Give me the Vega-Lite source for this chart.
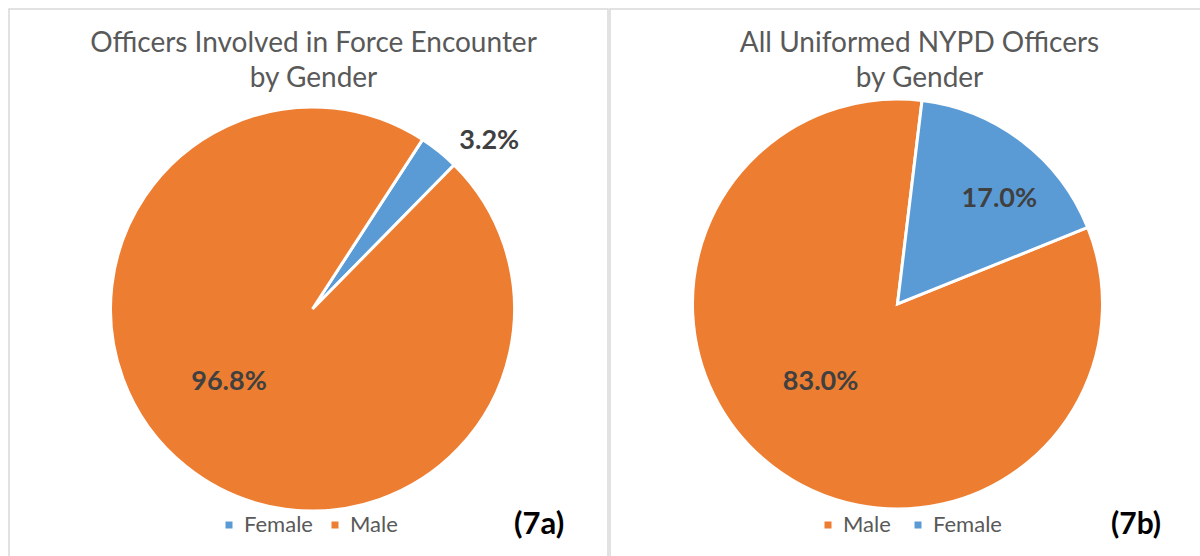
{
  "$schema": "https://vega.github.io/schema/vega-lite/v6.json",
  "padding": {"left": 8, "top": 8, "right": 0, "bottom": 0},
  "autosize": {"type": "pad"},
  "background": "white",
  "spacing": 0,
  "config": {
    "view": {"stroke": null},
    "font": "Lato",
    "title": {"font": "Lato", "fontSize": 28, "fontWeight": "normal", "color": "#595959", "lineHeight": 35, "anchor": "middle"}
  },
  "datasets": {
    "force": [
      {"gender": "Female", "share": 0.032},
      {"gender": "Male", "share": 0.968}
    ],
    "all": [
      {"gender": "Male", "share": 0.83},
      {"gender": "Female", "share": 0.17}
    ],
    "frame": [{"panel": "border"}]
  },
  "hconcat": [
    {
      "width": 599,
      "height": 548,
      "data": {"name": "force"},
      "title": {"text": ["Officers Involved in Force Encounter", "by Gender"], "offset": -85, "dx": 5},
      "layer": [
        {
          "data": {"name": "frame"},
          "mark": {"type": "rect", "fill": null, "stroke": "#D9D9D9", "strokeWidth": 1.5},
          "encoding": {}
        },
        {
          "mark": {"type": "arc", "radius": 202, "stroke": "white", "strokeWidth": 3, "xOffset": 4, "yOffset": 26},
          "encoding": {
            "theta": {"field": "share", "type": "quantitative", "stack": true, "scale": {"domain": [0, 1], "range": [0.576, 6.859]}},
            "order": {"field": "gender", "sort": "ascending"},
            "color": {
              "field": "gender", "type": "nominal",
              "scale": {"domain": ["Female", "Male"], "range": ["#5B9BD5", "#ED7D31"]},
              "legend": {
                "orient": "none", "legendX": 209, "legendY": 505, "direction": "horizontal",
                "title": "(7a)", "titleOrient": "right", "titlePadding": 116,
                "titleFont": "Lato", "titleFontSize": 31, "titleFontWeight": "bold", "titleColor": "black",
                "labelFont": "Lato", "labelFontSize": 22, "labelColor": "#595959",
                "symbolType": "square", "symbolSize": 49, "symbolStrokeWidth": 0, "symbolOpacity": 1,
                "columnPadding": 11, "labelOffset": 4
              }
            }
          }
        },
        {
          "mark": {"type": "text", "radius": 244, "xOffset": 28, "yOffset": 48, "font": "Lato", "fontWeight": "bold", "fontSize": 27, "color": "#404040"},
          "encoding": {
            "theta": {"field": "share", "type": "quantitative", "stack": true, "scale": {"domain": [0, 1], "range": [0.576, 6.859]}},
            "order": {"field": "gender", "sort": "ascending"},
            "text": {"field": "share", "type": "quantitative", "format": ".1%"},
            "opacity": {"condition": {"test": "datum.gender === 'Female'", "value": 1}, "value": 0}
          }
        },
        {
          "mark": {"type": "text", "radius": 111, "xOffset": -10, "yOffset": 12, "font": "Lato", "fontWeight": "bold", "fontSize": 27, "color": "#404040"},
          "encoding": {
            "theta": {"field": "share", "type": "quantitative", "stack": true, "scale": {"domain": [0, 1], "range": [0.576, 6.859]}},
            "order": {"field": "gender", "sort": "ascending"},
            "text": {"field": "share", "type": "quantitative", "format": ".1%"},
            "opacity": {"condition": {"test": "datum.gender === 'Male'", "value": 1}, "value": 0}
          }
        }
      ]
    },
    {
      "width": 593,
      "height": 548,
      "data": {"name": "all"},
      "title": {"text": ["All Uniformed NYPD Officers", "by Gender"], "offset": -85, "dx": 13},
      "layer": [
        {
          "data": {"name": "frame"},
          "mark": {"type": "rect", "fill": null, "stroke": "#D9D9D9", "strokeWidth": 1.5},
          "encoding": {}
        },
        {
          "mark": {"type": "arc", "radius": 205, "stroke": "white", "strokeWidth": 3, "xOffset": -9, "yOffset": 21},
          "encoding": {
            "theta": {"field": "share", "type": "quantitative", "stack": true, "scale": {"domain": [0, 1], "range": [0.12, 6.403]}},
            "order": {"field": "gender", "sort": "ascending"},
            "color": {
              "field": "gender", "type": "nominal",
              "scale": {"domain": ["Male", "Female"], "range": ["#ED7D31", "#5B9BD5"]},
              "legend": {
                "orient": "none", "legendX": 207, "legendY": 505, "direction": "horizontal",
                "title": "(7b)", "titleOrient": "right", "titlePadding": 109,
                "titleFont": "Lato", "titleFontSize": 30, "titleFontWeight": "bold", "titleColor": "black",
                "labelFont": "Lato", "labelFontSize": 22, "labelColor": "#595959",
                "symbolType": "square", "symbolSize": 49, "symbolStrokeWidth": 0, "symbolOpacity": 1,
                "columnPadding": 16, "labelOffset": 4
              }
            }
          }
        },
        {
          "mark": {"type": "text", "radius": 146, "xOffset": 4, "yOffset": 32, "font": "Lato", "fontWeight": "bold", "fontSize": 27, "color": "#404040"},
          "encoding": {
            "theta": {"field": "share", "type": "quantitative", "stack": true, "scale": {"domain": [0, 1], "range": [0.12, 6.403]}},
            "order": {"field": "gender", "sort": "ascending"},
            "text": {"field": "share", "type": "quantitative", "format": ".1%"},
            "opacity": {"condition": {"test": "datum.gender === 'Female'", "value": 1}, "value": 0}
          }
        },
        {
          "mark": {"type": "text", "radius": 110, "xOffset": -19, "yOffset": 12, "font": "Lato", "fontWeight": "bold", "fontSize": 27, "color": "#404040"},
          "encoding": {
            "theta": {"field": "share", "type": "quantitative", "stack": true, "scale": {"domain": [0, 1], "range": [0.12, 6.403]}},
            "order": {"field": "gender", "sort": "ascending"},
            "text": {"field": "share", "type": "quantitative", "format": ".1%"},
            "opacity": {"condition": {"test": "datum.gender === 'Male'", "value": 1}, "value": 0}
          }
        }
      ],
      "resolve": {"scale": {"color": "independent"}}
    }
  ],
  "resolve": {"scale": {"color": "independent", "theta": "independent"}, "legend": {"color": "independent"}}
}
